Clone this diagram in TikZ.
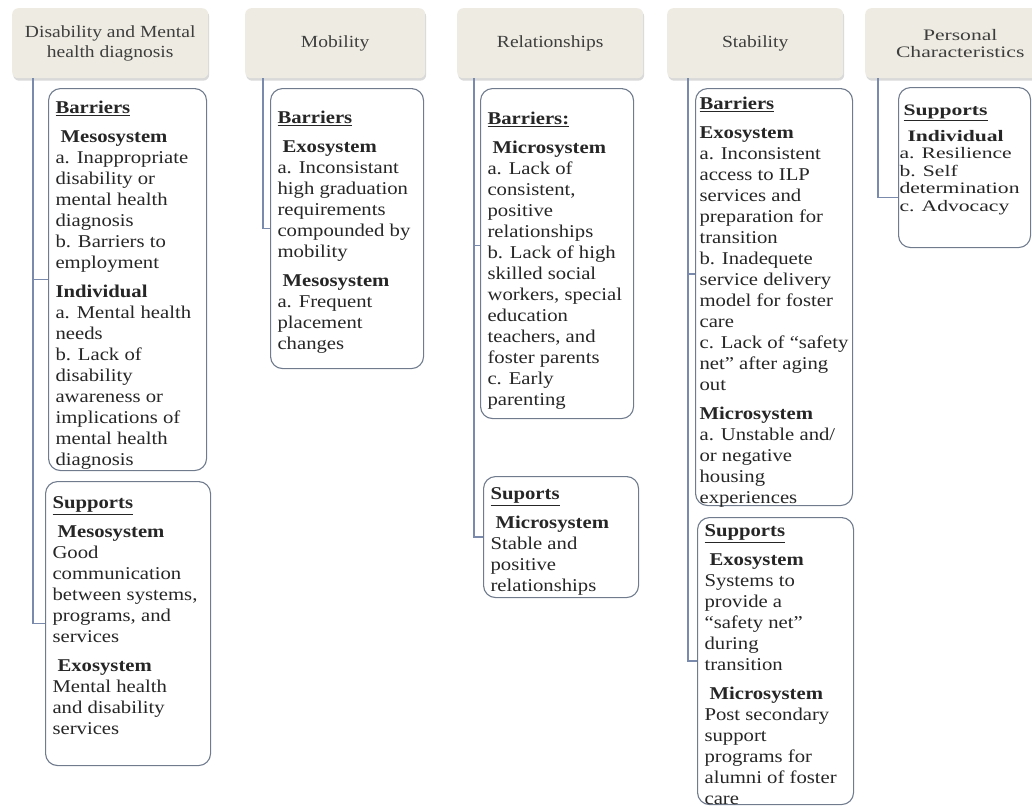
\documentclass[tikz,border=0pt]{standalone}
\usepackage{fontspec}
\setmainfont[FakeStretch=1.15]{Liberation Serif}
\newfontfamily\widefont[FakeStretch=1.35]{Liberation Serif}
\usetikzlibrary{shadows}

\definecolor{hdfill}{RGB}{238,236,226}
\definecolor{hdtext}{RGB}{62,62,62}
\definecolor{boxedge}{RGB}{112,124,142}
\definecolor{linkblue}{RGB}{122,138,172}
\definecolor{bodytext}{RGB}{38,38,38}

% width, height, first-line height, text
\newcommand{\cellbox}[4]{\begin{minipage}[t][#2][t]{#1}\raggedright\rule{0pt}{#3}#4\end{minipage}}
\newcommand{\head}[1]{\underline{\textbf{#1}}}
\newcommand{\sect}[2][0pt]{\par\vspace{8pt}\hspace*{#1}\textbf{#2}\par}

\begin{document}
\begin{tikzpicture}[x=1pt,y=-1pt]
    \tikzset{
      topic/.style={anchor=north west, fill=hdfill, text=hdtext, rounded corners=6pt,
        align=center, inner sep=0pt, minimum height=70pt,
        font=\fontsize{17}{20}\selectfont,
        drop shadow={shadow xshift=1pt, shadow yshift=-2.5pt, opacity=0.3}},
      panel/.style={anchor=north west, draw=boxedge, line width=1.1pt, fill=white,
        rounded corners=12pt, inner xsep=7pt, inner ysep=0pt, text=bodytext,
        font=\fontsize{18}{21}\selectfont},
      link/.style={draw=linkblue, line width=1.5pt}
    }
    \useasboundingbox (0,0) rectangle (1032,807);

    % topics
    \node[topic, minimum width=196pt] (h1) at (12,8) {Disability and Mental\\health diagnosis};
    \node[topic, minimum width=180pt] (h2) at (245,8) {Mobility};
    \node[topic, minimum width=186pt] (h3) at (457,8) {Relationships};
    \node[topic, minimum width=176pt] (h4) at (667,8) {Stability};
    \node[topic, minimum width=190pt, font=\widefont\fontsize{16}{17}\selectfont] (h5) at (865,8) {Personal\\Characteristics};

    % disability
    \node[panel] (b1a) at (48,88) {\cellbox{144pt}{382pt}{25pt}{%
      \head{Barriers}
      \sect[5pt]{Mesosystem}
      a. Inappropriate\\ disability or\\ mental health\\ diagnosis\\ b. Barriers to\\ employment
      \sect{Individual}
      a. Mental health\\ needs\\ b. Lack of\\ disability\\ awareness or\\ implications of\\ mental health\\ diagnosis}};
    \node[panel] (b1b) at (45,481) {\cellbox{151pt}{284pt}{27pt}{%
      \head{Supports}
      \sect[5pt]{Mesosystem}
      Good\\ communication\\ between systems,\\ programs, and\\ services
      \sect[5pt]{Exosystem}
      Mental health\\ and disability\\ services}};

    % mobility
    \node[panel] (b2a) at (270,88) {\cellbox{139pt}{280pt}{35pt}{%
      \head{Barriers}
      \sect[5pt]{Exosystem}
      a. Inconsistant\\ high graduation\\ requirements\\ compounded by\\ mobility
      \sect[5pt]{Mesosystem}
      a. Frequent\\ placement\\ changes}};

    % relationships
    \node[panel] (b3a) at (480,88) {\cellbox{139pt}{330pt}{36pt}{%
      \head{Barriers:}
      \sect[5pt]{Microsystem}
      a. Lack of\\ consistent,\\ positive\\ relationships\\ b. Lack of high\\ skilled social\\ workers, special\\ education\\ teachers, and\\ foster parents\\ c. Early\\ parenting}};
    \node[panel] (b3b) at (483,476) {\cellbox{141pt}{121pt}{23pt}{%
      \head{Suports}
      \sect[5pt]{Microsystem}
      Stable and\\ positive\\ relationships}};

    % stability
    \node[panel, inner xsep=4pt] (b4a) at (695,88) {\cellbox{149pt}{417pt}{21pt}{%
      \head{Barriers}
      \sect{Exosystem}
      a. Inconsistent\\ access to ILP\\ services and\\ preparation for\\ transition\\ b. Inadequete\\ service delivery\\ model for foster\\ care\\ c. Lack of “safety\\ net” after aging\\ out
      \sect{Microsystem}
      a. Unstable and/\\ or negative\\ housing\\ experiences}};
    \node[panel] (b4b) at (697,517) {\cellbox{142pt}{287pt}{19pt}{%
      \head{Supports}
      \sect[5pt]{Exosystem}
      Systems to\\ provide a\\ “safety net”\\ during\\ transition
      \sect[5pt]{Microsystem}
      Post secondary\\ support\\ programs for\\ alumni of foster\\ care}};

    % personal
    \node[panel, inner xsep=1pt, font=\widefont\fontsize{16}{17.5}\selectfont] (b5a) at (898,87) {\cellbox{130pt}{160pt}{28pt}{%
      \hspace*{4pt}\head{Supports}
      \sect[8pt]{Individual}
      a. Resilience\\ b. Self\\ determination\\ c. Advocacy}};

    % connectors
    \draw[link] ([xshift=21pt]h1.south west) |- (b1a.west);
    \draw[link] ([xshift=21pt]h1.south west) |- (b1b.west);
    \draw[link] ([xshift=18pt]h2.south west) |- (b2a.west);
    \draw[link] ([xshift=17pt]h3.south west) |- ([yshift=8pt]b3a.west);
    \draw[link] ([xshift=17pt]h3.south west) |- (b3b.west);
    \draw[link] ([xshift=21pt]h4.south west) |- ([yshift=23pt]b4a.west);
    \draw[link] ([xshift=21pt]h4.south west) |- (b4b.west);
    \draw[link] ([xshift=13pt]h5.south west) |- ([yshift=-30pt]b5a.west);
\end{tikzpicture}
\end{document}
